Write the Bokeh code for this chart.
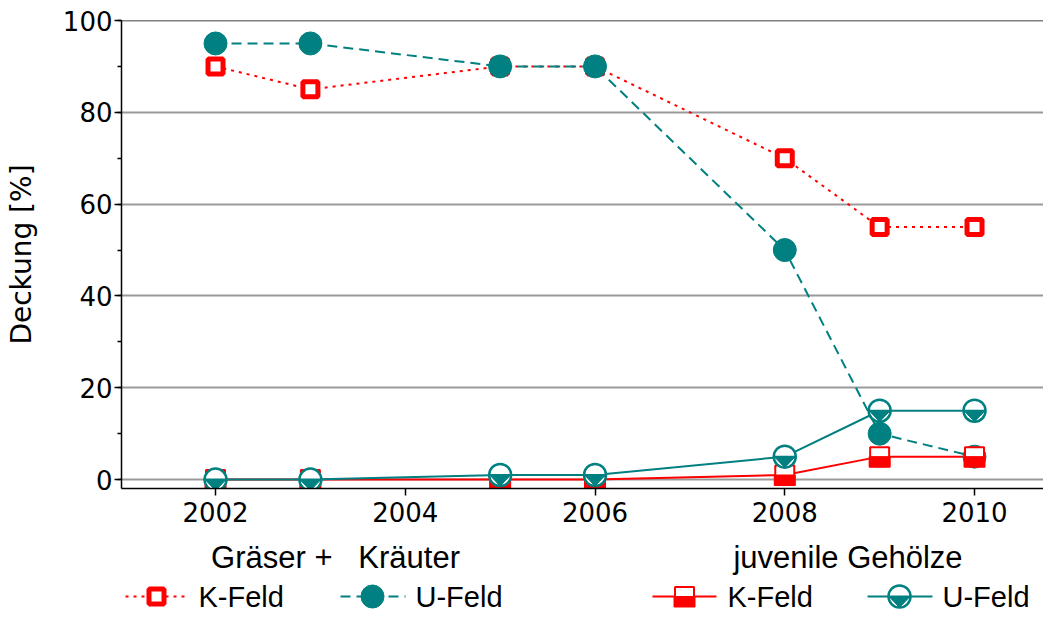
from bokeh.plotting import figure
from bokeh.layouts import column
from bokeh.models import Range1d, SingleIntervalTicker, Span, ColumnDataSource
from bokeh.embed import file_html
from bokeh.resources import INLINE
from bokeh.core.properties import value

# ---------------- data ----------------
years = [2002, 2003, 2005, 2006, 2008, 2009, 2010]
k_feld_gk = [90, 85, 90, 90, 70, 55, 55]   # Gräser + Kräuter, K-Feld
u_feld_gk = [95, 95, 90, 90, 50, 10, 5]    # Gräser + Kräuter, U-Feld
k_feld_jg = [0, 0, 0, 0, 1, 5, 5]          # juvenile Gehölze, K-Feld
u_feld_jg = [0, 0, 1, 1, 5, 15, 15]        # juvenile Gehölze, U-Feld
group_labels = ["Gräser +   Kräuter", "juvenile Gehölze"]
legend_labels = ["K-Feld", "U-Feld", "K-Feld", "U-Feld"]
y_label = "Deckung [%]"

RED = "#ff0000"
TEAL = "#008080"
FONT = "Liberation Sans"
TFONT = "DejaVu Sans"

W = 1043
H1 = 534
H2 = 78
LEFT = 121
TOP = 20
FW = W - LEFT
FH = 468
X0 = 2001.009
X1 = X0 + FW / 94.875
Y0, Y1 = -1.94, 100.0
xppu = FW / (X1 - X0)
yppu = FH / (Y1 - Y0)

p = figure(width=W, height=H1, x_range=Range1d(X0, X1), y_range=Range1d(Y0, Y1),
           output_backend="svg", toolbar_location=None,
           min_border_left=LEFT, min_border_right=0, min_border_top=TOP,
           min_border_bottom=H1 - TOP - FH)
p.outline_line_color = None
p.background_fill_color = "white"
p.border_fill_color = "white"

xt = SingleIntervalTicker(interval=2, num_minor_ticks=0)
yt = SingleIntervalTicker(interval=20, num_minor_ticks=2)
p.xaxis.ticker = xt
p.yaxis.ticker = yt
p.xgrid.visible = False
p.ygrid.ticker = yt
p.ygrid.grid_line_color = "#9a9a9a"
p.ygrid.grid_line_width = 2

for ax in (p.xaxis[0], p.yaxis[0]):
    ax.axis_line_color = "black"
    ax.axis_line_width = 1.5
    ax.major_tick_line_color = "black"
    ax.major_tick_line_width = 1.5
    ax.minor_tick_line_color = "black"
    ax.minor_tick_line_width = 1.5
    ax.major_tick_in = 0
    ax.minor_tick_in = 0
    ax.major_label_text_font = TFONT
    ax.major_label_text_font_size = "26px"
    ax.major_label_text_color = "black"

p.xaxis.major_tick_out = 7
p.xaxis.major_label_standoff = 6
p.yaxis.major_tick_out = 7
p.yaxis.minor_tick_out = 4
p.yaxis.major_label_standoff = 2
p.yaxis.axis_label = y_label
p.yaxis.axis_label_text_font = TFONT
p.yaxis.axis_label_text_font_size = "28px"
p.yaxis.axis_label_text_font_style = "normal"
p.yaxis.axis_label_text_color = "black"
p.yaxis.axis_label_standoff = 22

p.add_layout(Span(location=Y1, dimension="width", line_color="black", line_width=1.5))

# lines
p.line(years, k_feld_gk, line_color=RED, line_width=2, line_dash="3 5")
p.line(years, u_feld_gk, line_color=TEAL, line_width=2, line_dash="10 6")
p.line(years, k_feld_jg, line_color=RED, line_width=2)
p.line(years, u_feld_jg, line_color=TEAL, line_width=2)

# K-Feld (Gräser + Kräuter): thick open square
p.scatter(years, k_feld_gk, marker="square", size=15, line_width=5, line_color=RED, fill_color="white")
# U-Feld (Gräser + Kräuter): filled circle
p.scatter(years, u_feld_gk, marker="circle", size=23, line_color=TEAL, line_width=1, fill_color=TEAL)

# K-Feld (juvenile Gehölze): half-filled square
src_k = ColumnDataSource(dict(
    x=years, y=k_feld_jg,
    left=[x - 10.5 / xppu for x in years], right=[x + 10.5 / xppu for x in years],
    bottom=[y - 10.5 / yppu for y in k_feld_jg]))
p.scatter("x", "y", source=src_k, marker="square", size=19, line_width=2, line_color=RED, fill_color="white")
p.quad(left="left", right="right", top="y", bottom="bottom", source=src_k,
       fill_color=RED, line_color=RED, line_width=1)

# U-Feld (juvenile Gehölze): circle with bar and inverted triangle
src_u = ColumnDataSource(dict(
    x=years, y=u_feld_jg,
    xs=[[x - 10.5 / xppu, x + 10.5 / xppu, x] for x in years],
    ys=[[y, y, y - 11 / yppu] for y in u_feld_jg]))
p.scatter("x", "y", source=src_u, marker="circle", size=22, line_width=2.5, line_color=TEAL, fill_color="white")
p.patches("xs", "ys", source=src_u, fill_color=TEAL, line_color=TEAL, line_width=1)
p.scatter("x", "y", source=src_u, marker="dash", size=22, line_width=2, line_color=TEAL)

# ---------------- bottom panel: group labels + legend ----------------
# frame spans canvas x = LEFT..W, so data x equals canvas pixel x
f2 = figure(width=W, height=H2, x_range=Range1d(LEFT, W), y_range=Range1d(0, H2),
            output_backend="svg", toolbar_location=None,
            x_axis_location=None, y_axis_location=None,
            min_border_left=LEFT, min_border_right=0, min_border_top=0, min_border_bottom=0)
f2.outline_line_color = None
f2.xgrid.visible = False
f2.ygrid.visible = False

# keep the multiple spaces visible (SVG would collapse ordinary spaces)
shown_groups = [g.replace("   ", "\u00a0\u00a0\u00a0") for g in group_labels]
f2.text(x=[335, 847.5], y=[55, 55], text=shown_groups, text_font=value(FONT),
        text_font_size="31px", text_align="center", text_baseline="middle", text_color="black")

LY = 16
# item 1
f2.line([125, 188], [LY, LY], line_color=RED, line_width=2, line_dash="3 5")
f2.scatter([156], [LY], marker="square", size=15, line_width=5, line_color=RED, fill_color="white")
# item 2
f2.line([340, 405], [LY, LY], line_color=TEAL, line_width=2, line_dash="10 6")
f2.scatter([372], [LY], marker="circle", size=23, line_color=TEAL, fill_color=TEAL)
# item 3
f2.line([652, 716], [LY, LY], line_color=RED, line_width=2)
f2.scatter([684], [LY], marker="square", size=19, line_width=2, line_color=RED, fill_color="white")
f2.quad(left=[673.5], right=[694.5], top=[LY], bottom=[LY - 10.5], fill_color=RED, line_color=RED)
# item 4
f2.line([867, 932], [LY, LY], line_color=TEAL, line_width=2)
f2.scatter([899], [LY], marker="circle", size=22, line_width=2.5, line_color=TEAL, fill_color="white")
f2.patches([[888.5, 909.5, 899]], [[LY, LY, LY - 11]], fill_color=TEAL, line_color=TEAL)
f2.scatter([899], [LY], marker="dash", size=22, line_width=2, line_color=TEAL)

f2.text(x=[198, 415, 727, 942], y=[LY] * 4, text=legend_labels, text_font=value(FONT),
        text_font_size="29px", text_align="left", text_baseline="middle", text_color="black")

layout = column(p, f2, spacing=0)
open("out.html", "w").write(file_html(layout, INLINE))
